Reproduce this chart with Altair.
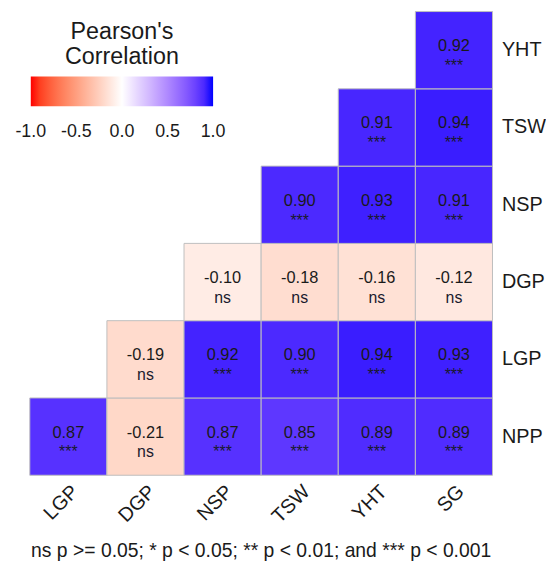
import altair as alt
import pandas as pd

x_vars = ["LGP", "DGP", "NSP", "TSW", "YHT", "SG"]
y_vars = ["YHT", "TSW", "NSP", "DGP", "LGP", "NPP"]

row_npp = [("LGP", 0.87), ("DGP", -0.21), ("NSP", 0.87), ("TSW", 0.85), ("YHT", 0.89), ("SG", 0.89)]
row_lgp = [("DGP", -0.19), ("NSP", 0.92), ("TSW", 0.90), ("YHT", 0.94), ("SG", 0.93)]
row_dgp = [("NSP", -0.10), ("TSW", -0.18), ("YHT", -0.16), ("SG", -0.12)]
row_nsp = [("TSW", 0.90), ("YHT", 0.93), ("SG", 0.91)]
row_tsw = [("YHT", 0.91), ("SG", 0.94)]
row_yht = [("SG", 0.92)]

rows = {"NPP": row_npp, "LGP": row_lgp, "DGP": row_dgp,
        "NSP": row_nsp, "TSW": row_tsw, "YHT": row_yht}

# legend breaks (ends nudged inward a hair so their labels are centred like the reference)
legend_values = [-0.9999, -0.5, 0, 0.5, 0.9999]

records = []
for yv, cells in rows.items():
    for xv, r in cells:
        sig = "***" if r > 0 else "ns"
        records.append({"x": xv, "y": yv, "r": r, "label": f"{r:.2f}", "sig": sig})
df = pd.DataFrame(records)

caption = "ns p >= 0.05; * p < 0.05; ** p < 0.01; and *** p < 0.001"
FONT = "Liberation Sans"

xenc = alt.X("x:N", sort=x_vars, scale=alt.Scale(domain=x_vars, paddingInner=0, paddingOuter=0),
             axis=alt.Axis(title=None, labelAngle=-45, labelAlign="right", labelBaseline="top",
                           labelFontSize=20, labelColor="#1a1a1a", ticks=False, domain=False,
                           labelPadding=6, labelFont=FONT))
yenc = alt.Y("y:N", sort=y_vars, scale=alt.Scale(domain=y_vars, paddingInner=0, paddingOuter=0),
             axis=alt.Axis(title=None, orient="right", labelFontSize=20, labelColor="#1a1a1a",
                           ticks=False, domain=False, labelPadding=9, labelFont=FONT))

rect = alt.Chart(df).mark_rect(stroke="#bebebe", strokeWidth=1).encode(
    x=xenc, y=yenc,
    color=alt.Color("r:Q",
                    scale=alt.Scale(domain=[-1, 0, 1], range=["#FF0000", "#FFFFFF", "#0000FF"],
                                    interpolate="lab"),
                    legend=alt.Legend(title=["Pearson's", "Correlation"], orient="none",
                                      direction="horizontal", legendX=1, legendY=9,
                                      gradientLength=184, gradientThickness=30,
                                      titleFontSize=23.5, titleFont=FONT, titleFontWeight="normal",
                                      titleAnchor="middle", titleAlign="center", titleLineHeight=25,
                                      titlePadding=8, titleColor="#1a1a1a",
                                      labelFontSize=18, labelFont=FONT,
                                      labelColor="#1a1a1a", labelOffset=17, labelOverlap=False,
                                      values=legend_values,
                                      labelExpr="(datum.value < 0 ? '-' : '') + format(abs(datum.value), '.1f')",
                                      gradientStrokeWidth=0))
)

vals = alt.Chart(df).mark_text(fontSize=16.5, font=FONT, color="#1a1a1a", yOffset=-4).encode(
    x=alt.X("x:N", sort=x_vars), y=alt.Y("y:N", sort=y_vars), text="label:N")
sigs = alt.Chart(df).mark_text(fontSize=16, font=FONT, color="#1a1a2e", yOffset=16).encode(
    x=alt.X("x:N", sort=x_vars), y=alt.Y("y:N", sort=y_vars), text="sig:N")

chart = alt.layer(rect, vals, sigs).properties(
    width=467, height=468,
    padding={"left": 21, "top": 0, "right": 0, "bottom": 0},
    title=alt.TitleParams(caption, orient="bottom", anchor="middle", fontSize=19.5,
                          fontWeight="normal", font=FONT, color="#1a1a1a", offset=16)
).configure_view(stroke=None)

chart.save("out.html", embed_options={"renderer": "svg", "actions": False})
